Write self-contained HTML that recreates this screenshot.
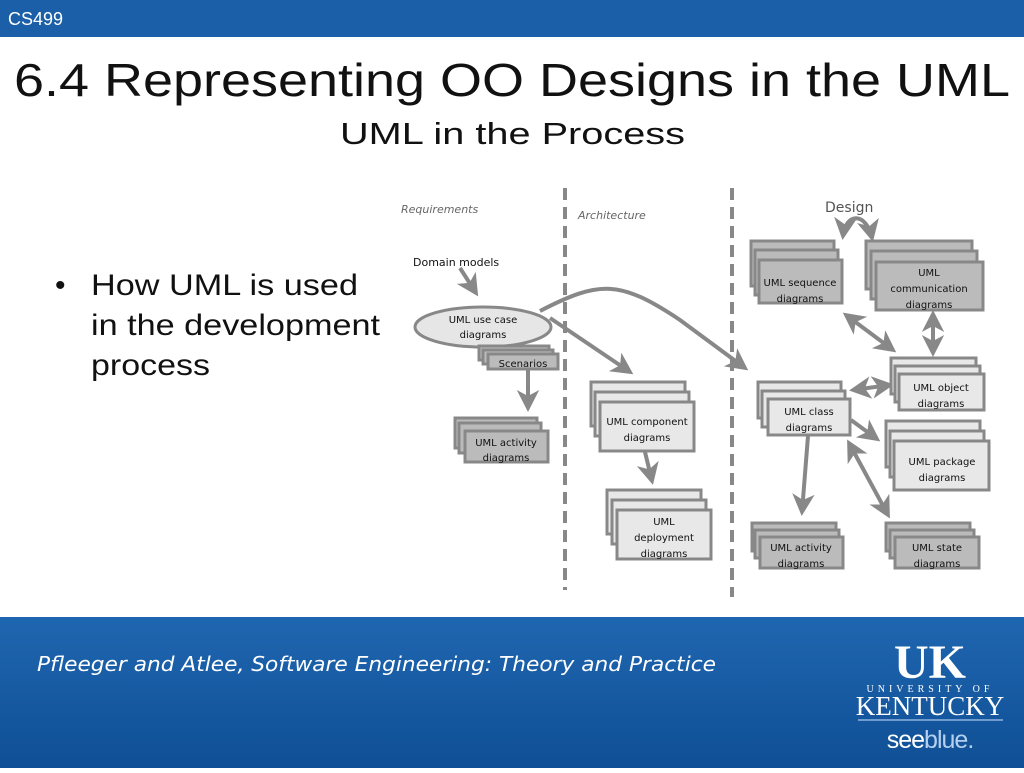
<!DOCTYPE html>
<html><head><meta charset="utf-8"><style>
body{margin:0;width:1024px;height:768px;overflow:hidden;background:#fff;font-family:"Liberation Sans",sans-serif;}
</style></head><body>
<svg width="1024" height="768" xmlns="http://www.w3.org/2000/svg" font-family="'Liberation Sans',Arial,sans-serif">
<defs>
<linearGradient id="ft" x1="0" y1="0" x2="0" y2="1"><stop offset="0" stop-color="#1f66b0"/><stop offset="1" stop-color="#0f4f95"/></linearGradient>
<marker id="ah" markerWidth="6" markerHeight="6" refX="4.5" refY="3" orient="auto" markerUnits="strokeWidth"><path d="M0,0.2 L5.5,3 L0,5.8 L1.5,3 z" fill="#888"/></marker>
<marker id="as" markerWidth="6" markerHeight="6" refX="1" refY="3" orient="auto" markerUnits="strokeWidth"><path d="M5.5,0.2 L0,3 L5.5,5.8 L4,3 z" fill="#888"/></marker>
</defs>
<rect x="0" y="0" width="1024" height="37" fill="#1a5fa8"/>
<text x="8" y="25" font-size="18" fill="#fff">CS499</text>
<text x="14" y="96" font-size="46" fill="#111" textLength="996" lengthAdjust="spacingAndGlyphs">6.4 Representing OO Designs in the UML</text>
<text x="340" y="144" font-size="31" fill="#111" textLength="345" lengthAdjust="spacingAndGlyphs">UML in the Process</text>
<text x="55" y="295" font-size="30" fill="#111">•</text>
<text x="91" y="295" font-size="30" fill="#111" textLength="267" lengthAdjust="spacingAndGlyphs">How UML is used</text>
<text x="91" y="335" font-size="30" fill="#111" textLength="289" lengthAdjust="spacingAndGlyphs">in the development</text>
<text x="91" y="375" font-size="30" fill="#111" textLength="119" lengthAdjust="spacingAndGlyphs">process</text>

<g stroke="#888" stroke-width="4" stroke-dasharray="12,7"><line x1="565" y1="188" x2="565" y2="590"/><line x1="732" y1="188" x2="732" y2="597"/></g>

<g font-family="'DejaVu Sans',sans-serif" fill="#333" font-size="11">
<text x="401" y="213" fill="#666" font-style="italic">Requirements</text>
<text x="578" y="219" fill="#666" font-style="italic">Architecture</text>
<text x="825" y="212" fill="#555" font-size="14">Design</text>
<text x="413" y="266" fill="#111">Domain models</text>
</g>

<g stroke="#888" stroke-width="4" fill="none">
<line x1="460" y1="268" x2="476" y2="293" marker-end="url(#ah)"/>
<path d="M540,311 C600,280 620,280 680,320 L745,368" marker-end="url(#ah)"/>
<line x1="550" y1="318" x2="630" y2="372" marker-end="url(#ah)"/>
<line x1="528" y1="370" x2="528" y2="408" marker-end="url(#ah)"/>
<line x1="645" y1="452" x2="652" y2="481" marker-end="url(#ah)"/>
<path d="M843,236 C846,212 866,212 872,238" marker-start="url(#as)" marker-end="url(#ah)"/>
<line x1="846" y1="315" x2="893" y2="350" marker-start="url(#as)" marker-end="url(#ah)"/>
<line x1="933" y1="314" x2="933" y2="353" marker-start="url(#as)" marker-end="url(#ah)"/>
<line x1="853" y1="390" x2="890" y2="385" marker-start="url(#as)" marker-end="url(#ah)"/>
<line x1="851" y1="420" x2="877" y2="439" marker-end="url(#ah)"/>
<line x1="849" y1="443" x2="888" y2="515" marker-start="url(#as)" marker-end="url(#ah)"/>
<line x1="808" y1="436" x2="802" y2="512" marker-end="url(#ah)"/>
</g>

<ellipse cx="483" cy="327" rx="68" ry="20" fill="#e6e6e6" stroke="#888" stroke-width="3"/>
<g font-family="'DejaVu Sans',sans-serif" font-size="10" fill="#111" text-anchor="middle">
<text x="483" y="323">UML use case</text><text x="483" y="338">diagrams</text>
</g>

<g stroke="#888" stroke-width="3">
<g fill="#bbb"><rect x="479" y="346" width="70" height="14"/><rect x="483" y="350" width="70" height="14"/><rect x="488" y="354" width="70" height="15"/></g>
<g fill="#bbb"><rect x="455" y="418" width="82" height="30"/><rect x="459" y="423" width="82" height="30"/><rect x="465" y="431" width="83" height="31"/></g>
<g fill="#e8e8e8"><rect x="591" y="382" width="94" height="44"/><rect x="595" y="392" width="94" height="44"/><rect x="600" y="402" width="94" height="49"/></g>
<g fill="#e8e8e8"><rect x="607" y="490" width="94" height="44"/><rect x="612" y="500" width="94" height="44"/><rect x="617" y="510" width="94" height="49"/></g>
<g fill="#bbb"><rect x="751" y="241" width="83" height="45"/><rect x="755" y="250" width="83" height="45"/><rect x="759" y="260" width="83" height="43"/></g>
<g fill="#bbb"><rect x="866" y="241" width="106" height="48"/><rect x="871" y="251" width="106" height="48"/><rect x="876" y="262" width="107" height="48"/></g>
<g fill="#e8e8e8"><rect x="891" y="358" width="85" height="36"/><rect x="895" y="366" width="85" height="36"/><rect x="899" y="374" width="85" height="36"/></g>
<g fill="#e8e8e8"><rect x="758" y="382" width="83" height="36"/><rect x="762" y="391" width="83" height="36"/><rect x="768" y="399" width="82" height="36"/></g>
<g fill="#e8e8e8"><rect x="886" y="421" width="94" height="46"/><rect x="890" y="431" width="94" height="46"/><rect x="894" y="441" width="95" height="49"/></g>
<g fill="#bbb"><rect x="752" y="523" width="84" height="28"/><rect x="755" y="530" width="84" height="28"/><rect x="760" y="537" width="83" height="31"/></g>
<g fill="#bbb"><rect x="886" y="523" width="84" height="28"/><rect x="890" y="530" width="84" height="28"/><rect x="895" y="537" width="84" height="31"/></g>
</g>

<g font-family="'DejaVu Sans',sans-serif" font-size="10" fill="#111" text-anchor="middle">
<text x="523" y="367">Scenarios</text>
<text x="506" y="446">UML activity</text><text x="506" y="461">diagrams</text>
<text x="647" y="425">UML component</text><text x="647" y="441">diagrams</text>
<text x="664" y="525">UML</text><text x="664" y="541">deployment</text><text x="664" y="557">diagrams</text>
<text x="800" y="286">UML sequence</text><text x="800" y="302">diagrams</text>
<text x="929" y="276">UML</text><text x="929" y="292">communication</text><text x="929" y="308">diagrams</text>
<text x="941" y="391">UML object</text><text x="941" y="407">diagrams</text>
<text x="809" y="415">UML class</text><text x="809" y="431">diagrams</text>
<text x="942" y="465">UML package</text><text x="942" y="481">diagrams</text>
<text x="801" y="551">UML activity</text><text x="801" y="567">diagrams</text>
<text x="937" y="551">UML state</text><text x="937" y="567">diagrams</text>
</g>

<rect x="0" y="617" width="1024" height="151" fill="url(#ft)"/>
<text x="37" y="671" font-size="20" font-style="italic" fill="#fff" font-family="'DejaVu Sans',sans-serif" textLength="679" lengthAdjust="spacingAndGlyphs">Pfleeger and Atlee, Software Engineering: Theory and Practice</text>
<text x="930" y="678" font-size="48" font-weight="bold" fill="#fff" text-anchor="middle" font-family="'Liberation Serif',serif">UK</text>
<text x="930" y="692" font-size="10" fill="#fff" text-anchor="middle" letter-spacing="4" font-family="'Liberation Serif',serif">UNIVERSITY OF</text>
<text x="930" y="715" font-size="27" fill="#fff" text-anchor="middle" font-family="'Liberation Serif',serif">KENTUCKY</text>
<line x1="858" y1="720" x2="1003" y2="720" stroke="#8fb4de" stroke-width="1.5"/>
<text x="930" y="748" font-size="25" fill="#fff" text-anchor="middle" letter-spacing="-1">see<tspan fill="#b5d0ee">blue.</tspan></text>
</svg>
</body></html>
